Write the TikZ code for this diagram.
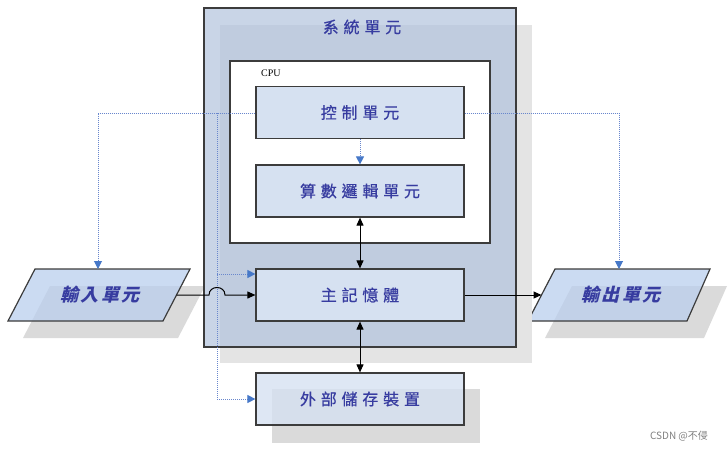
\documentclass[tikz,border=0pt]{standalone}
\usepackage{fontspec}
\setmainfont{Liberation Serif}
\newfontfamily\cjk[LetterSpace=30,FakeBold=0.6]{Noto Sans CJK TC}
\newfontfamily\cjkio[LetterSpace=12,FakeSlant=0.25]{Noto Sans CJK TC}
\newfontfamily\cjksc{Noto Sans CJK SC}
\usetikzlibrary{arrows.meta}
\definecolor{boxfill}{RGB}{214,225,241}
\definecolor{sysfill}{RGB}{178,195,221}
\definecolor{parafill}{RGB}{186,207,238}
\definecolor{edge}{RGB}{60,60,60}
\definecolor{txt}{RGB}{55,60,160}
\definecolor{dotc}{RGB}{105,135,205}
\definecolor{tipc}{RGB}{70,120,200}
\definecolor{shad}{RGB}{218,218,218}
\definecolor{sysshad}{RGB}{228,228,228}
\tikzset{
  box/.style={draw=edge, line width=1.2pt, fill=boxfill, minimum width=208pt, minimum height=52pt, inner sep=0pt, font=\cjk\fontsize{16}{16}\selectfont, text=txt},
  iotext/.style={font=\cjkio\bfseries\fontsize{18}{18}\selectfont, text=txt},
  ctl/.style={draw=dotc, densely dotted, line width=1pt, -{Triangle[length=8pt,width=8pt,color=tipc]}},
  ctlline/.style={draw=dotc, densely dotted, line width=1pt},
  bus/.style={draw=black, line width=1pt, -{Triangle[length=8pt,width=7pt]}},
  dbl/.style={draw=black, line width=1pt, {Triangle[length=8pt,width=7pt]}-{Triangle[length=8pt,width=7pt]}}
}
\begin{document}
\begin{tikzpicture}[x=1pt,y=-1pt]
\useasboundingbox (0,0) rectangle (728,450);
% input unit
\fill[shad] (50,286) -- (205,286) -- (178,338) -- (23,338) -- cycle;
\draw[draw=edge, line width=1.2pt, fill=parafill, fill opacity=0.75] (35,269) -- (190,269) -- (163,321) -- (8,321) -- cycle;
\node[iotext] (in) at (100,295) {輸入單元};
\coordinate (inR) at (176.5,295);
\coordinate (inT) at (98,269);
% output unit
\fill[shad] (572,286) -- (727,286) -- (704,338) -- (545,338) -- cycle;
\draw[draw=edge, line width=1.2pt, fill=parafill, fill opacity=0.75] (555,269) -- (710,269) -- (687,321) -- (528,321) -- cycle;
\node[iotext] (out) at (621,295) {輸出單元};
\coordinate (outL) at (541.5,295);
\coordinate (outT) at (619,269);
% system unit
\fill[sysshad] (220,25) rectangle (532,363);
\node[draw=edge, line width=1.3pt, fill=sysfill, fill opacity=0.7, minimum width=312pt, minimum height=339pt, inner sep=0pt] (sys) at (360,177.5) {};
\node[font=\cjk\fontsize{16}{16}\selectfont, text=txt] (systitle) at (362,27) {系統單元};
% CPU
\node[draw=edge, line width=1.2pt, fill=white, minimum width=260pt, minimum height=182pt, inner sep=0pt] (cpu) at (360,152) {};
\node[font=\fontsize{10}{10}\selectfont, anchor=west, inner sep=0pt] (cpulabel) at (261,73) {CPU};
\node[box] (ctrl) at (360,112.5) {控制單元};
\node[box] (alu) at (360,191) {算數邏輯單元};
\node[box] (mem) at (360,295) {主記憶體};
% external storage
\fill[shad] (272,389) rectangle (480,443);
\node[box, fill opacity=0.8, text opacity=1] (ext) at (360,399) {外部儲存裝置};
% control lines
\coordinate (jl) at (98,113);
\coordinate (jr) at (619,113);
\coordinate (v1) at (217,113);
\coordinate (v2) at (217,274);
\coordinate (v3) at (217,399);
\draw[ctl] (ctrl.west |- jl) -- (jl) -- (inT);
\draw[ctl] (ctrl.east |- jr) -- (jr) -- (outT);
\draw[ctlline] (v1) -- (v3);
\draw[ctl] (v2) -- (mem.west |- v2);
\draw[ctl] (v3) -- (ext.west |- v3);
\draw[ctl] (ctrl.south) -- (alu.north);
% data lines
\draw[dbl] (alu.south) -- (mem.north);
\draw[dbl] (mem.south) -- (ext.north);
\draw[bus] (inR) -- (209,295) .. controls (209,285) and (225,285) .. (225,295) -- (mem.west);
\draw[bus] (mem.east) -- (outL);
% watermark
\node[font=\cjksc\fontsize{10}{10}\selectfont, text=gray] (wm) at (679,436) {CSDN @不侵};
\end{tikzpicture}
\end{document}
